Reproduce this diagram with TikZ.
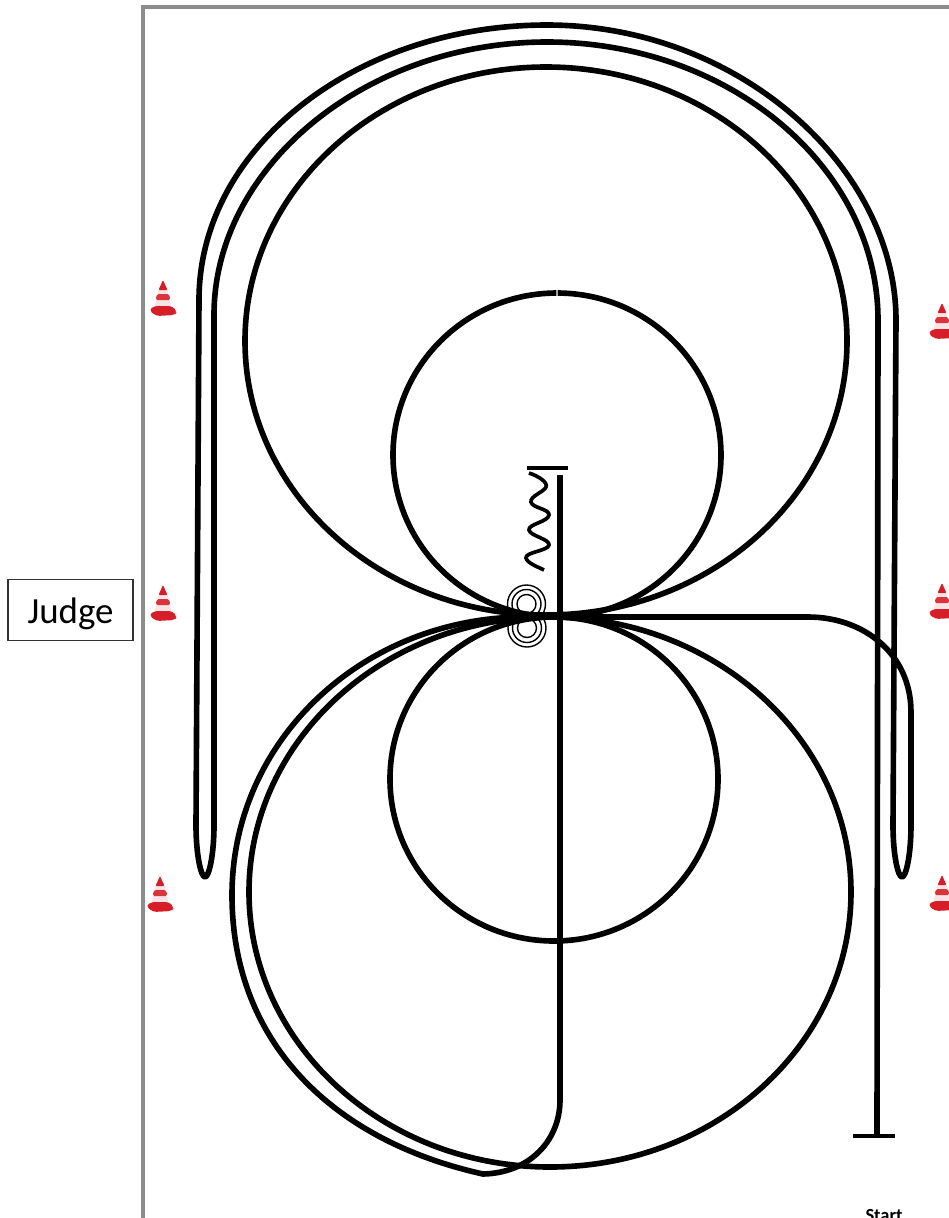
\documentclass[tikz,border=0pt]{standalone}
\usepackage{fontspec}
\setmainfont{Carlito}
\usetikzlibrary{positioning}
\definecolor{conered}{RGB}{214,30,40}
\definecolor{framegray}{RGB}{140,140,140}
\tikzset{
	trackline/.style={line width=3.2pt, black, line join=round}
}
\tikzset{
	ringline/.style={line width=0.8pt, black}
}
\tikzset{
	judgebox/.style={draw=black!80, line width=0.7pt, minimum width=2.5cm, minimum height=1.22cm, inner sep=0pt, text height=0.67cm, font=\fontsize{21}{24}\selectfont}
}
\tikzset{
	pics/cone/.style={
		code={
			\fill[conered!12, rounded corners=2pt] (-4,-10) -- (4,-10) -- (9,12) -- (-9,12) -- cycle;
			\fill[conered, rounded corners=0.6pt] (0,-17) -- (4.5,-7) -- (-4.5,-7) -- cycle;
			\fill[conered!90, rounded corners=1pt] (-6,-3) -- (6,-3) -- (7.5,3) -- (-7.5,3) -- cycle;
			\fill[conered, rounded corners=2pt] (-9,9) -- (9,9) -- (14,14) -- (12,18) -- (-7,19) -- (-14,13) -- cycle;
		}
	}
}

\begin{document}
\begin{tikzpicture}[x=0.02cm, y=-0.02cm]

	\useasboundingbox (0,0) rectangle (949,1218);
	\clip (0,0) rectangle (949,1218);

	% border
	\draw[framegray, line width=2.3pt] (143,1218) -- (143,7) -- (949,7);

	% cones
	\foreach \conex/\coney in {163/297, 163/602, 160/893, 942/320, 942/600, 942/892} {
		\pic at (\conex,\coney) {cone};
	}

	\node[judgebox] (judge) at (70.5,610) {Judge};
	\node[font=\fontsize{10.5}{12}\selectfont\bfseries] (start) at (884,1216) {Start};

	% rings
	\begin{scope}
		\clip (480,570) rectangle (575,617);
		\foreach \ringr in {9.5, 14.5, 19} {
			\draw[ringline] (526.5,604) circle [radius=\ringr];
		}
	\end{scope}
	\begin{scope}
		\clip (480,617) rectangle (575,660);
		\foreach \ringr in {9.5, 14.5, 19} {
			\draw[ringline] (527,628) circle [radius=\ringr];
		}
	\end{scope}

	% large loops
	\draw[trackline] (546,341) ellipse [x radius=301, y radius=274];
	\draw[trackline] (550,892) ellipse [x radius=301, y radius=275];

	% small loops
	\draw[trackline] ([shift={(270.2:164 and 162)}]557,455) arc [start angle=270.2, end angle=629.8, x radius=164, y radius=162];
	\draw[trackline] (554,779) ellipse [x radius=164, y radius=162];

	% outer track
	\draw[trackline] (877,1136) -- (878,320) .. controls (878,168) and (730,42) .. (547,42)
		.. controls (364,42) and (214,168) .. (214,315) -- (214,825)
		.. controls (214,855) and (209,877) .. (205,877)
		.. controls (201,877) and (196,855) .. (196,825) -- (199,300)
		.. controls (199,148) and (355,25) .. (547,25)
		.. controls (739,25) and (896,168) .. (896,320) -- (893,825)
		.. controls (893,855) and (898,877) .. (902,877)
		.. controls (906,877) and (911,855) .. (911,825) -- (911,712)
		.. controls (911,655) and (865,617) .. (808,617) -- (516,617);

	% center line and return
	\draw[trackline] (560,475) -- (560,1100)
		.. controls (560,1140) and (530,1173) .. (483,1174)
		.. controls (330,1140) and (232,1040) .. (232,895)
		.. controls (232,742) and (360,620) .. (520,617);

	% end bars
	\draw[line width=2.3pt] (853,1136) -- (895,1136);
	\draw[line width=2.3pt] (527,468) -- (568,468);

	% wiggle
	\draw[line width=2.1pt] (529,473) .. controls (538,476) and (548,482) .. (546,487)
		.. controls (544,492) and (530,496) .. (531,502)
		.. controls (532,508) and (550,509) .. (549,515)
		.. controls (548,522) and (528,524) .. (529,530)
		.. controls (530,536) and (550,539) .. (549,545)
		.. controls (548,551) and (525,552) .. (526,558)
		.. controls (527,563) and (538,567) .. (544,570);

\end{tikzpicture}
\end{document}
